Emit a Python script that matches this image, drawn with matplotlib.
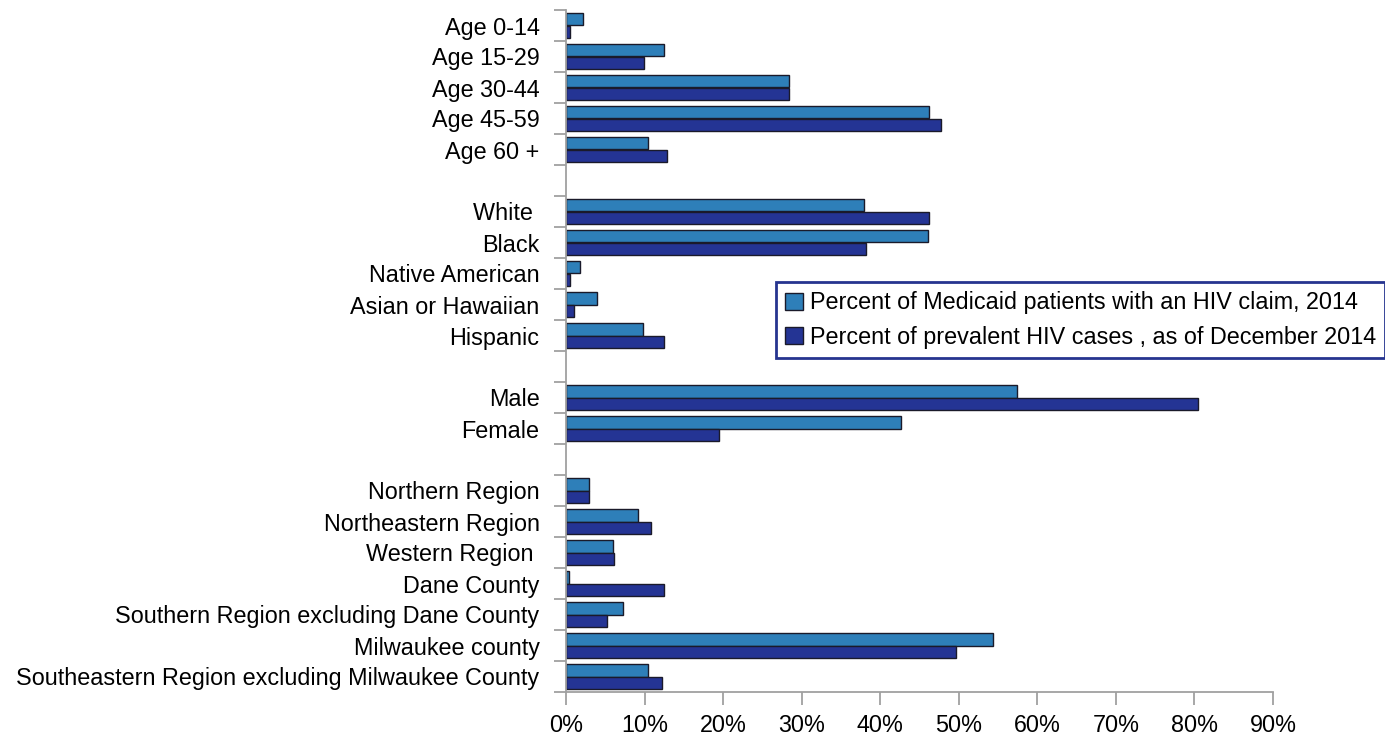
import matplotlib.pyplot as plt
import numpy as np
from matplotlib.ticker import FixedLocator, PercentFormatter

plt.rcParams['font.family'] = ['Liberation Sans', 'DejaVu Sans']

# empty strings are the gaps between groups
labels = ['Age 0-14', 'Age 15-29', 'Age 30-44', 'Age 45-59', 'Age 60 +', '',
          'White ', 'Black', 'Native American', 'Asian or Hawaiian', 'Hispanic', '',
          'Male', 'Female', '',
          'Northern Region', 'Northeastern Region', 'Western Region ', 'Dane County',
          'Southern Region excluding Dane County', 'Milwaukee county',
          'Southeastern Region excluding Milwaukee County']
medicaid = [2.2, 12.5, 28.4, 46.2, 10.4, np.nan,
            37.9, 46.1, 1.8, 3.9, 9.8, np.nan,
            57.4, 42.6, np.nan,
            2.9, 9.2, 6.0, 0.4, 7.3, 54.3, 10.4]
prevalent = [0.5, 9.9, 28.4, 47.8, 12.8, np.nan,
             46.2, 38.2, 0.5, 1.0, 12.5, np.nan,
             80.4, 19.5, np.nan,
             2.9, 10.8, 6.1, 12.5, 5.2, 49.6, 12.2]
names = ['Percent of Medicaid patients with an HIV claim, 2014',
         'Percent of prevalent HIV cases , as of December 2014']

fig = plt.figure(figsize=(13.85, 7.36), dpi=100)
ax = fig.add_axes([566/1385, 1-692/736, (1273-566)/1385, (692-10)/736])

y = np.arange(len(labels))
h = 0.39
ax.barh(y - h/2, medicaid, height=h, color='#2e7fb9', edgecolor='#1a1a2a', linewidth=1, label=names[0])
ax.barh(y + h/2, prevalent, height=h, color='#243494', edgecolor='#1a1a2a', linewidth=1, label=names[1])

ax.set_ylim(len(labels) - 0.5, -0.5)
ax.set_xlim(0, 90)
ax.set_yticks(y)
ax.set_yticklabels(labels, fontsize=16.8)
ax.tick_params(axis='y', which='major', length=0, pad=19)
ax.yaxis.set_minor_locator(FixedLocator(np.arange(-0.5, len(labels), 1)))
ax.tick_params(axis='y', which='minor', length=9, color='#a0a0a0', width=1.3)
ax.set_xticks(np.arange(0, 91, 10))
ax.xaxis.set_major_formatter(PercentFormatter(decimals=0))
ax.tick_params(axis='x', length=9, color='#a0a0a0', width=1.3, labelsize=16.8, pad=7)

for s in ['top', 'right']:
    ax.spines[s].set_visible(False)
for s in ['left', 'bottom']:
    ax.spines[s].set_color('#a0a0a0')
    ax.spines[s].set_linewidth(1.3)

leg = fig.legend(loc='upper left', bbox_to_anchor=(776/1385, 1-282/736),
                 fontsize=16.8, frameon=True, fancybox=False, framealpha=1,
                 handlelength=0.75, handleheight=0.75, handletextpad=0.3,
                 borderpad=0.4, labelspacing=0.5, borderaxespad=0)
leg.get_frame().set_edgecolor('#26348f')
leg.get_frame().set_linewidth(2)

fig.savefig('out.png', dpi=100)
